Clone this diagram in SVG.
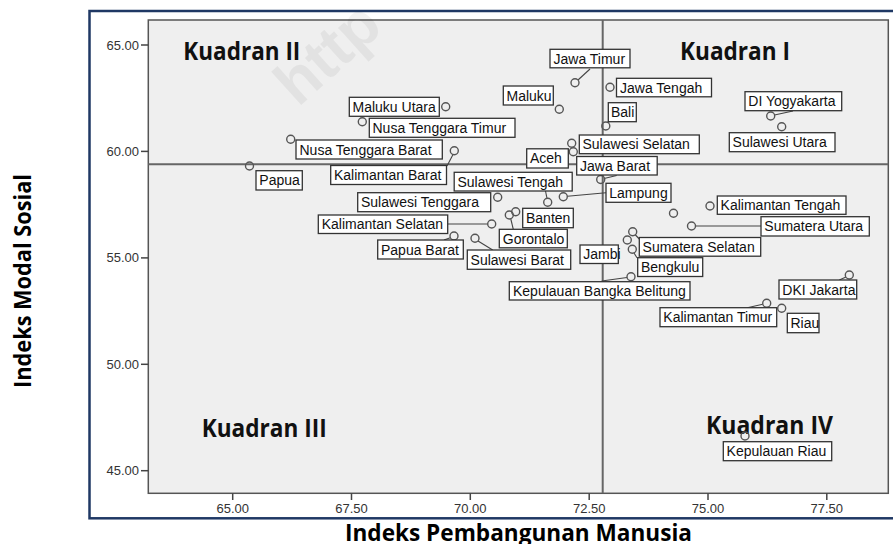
<svg xmlns="http://www.w3.org/2000/svg" width="893" height="544" viewBox="0 0 893 544">
<style>
.pt{fill:none;stroke:#555;stroke-width:1.4}
.lb{fill:#fff;stroke:#333;stroke-width:1.3}
.lt{font-family:"Liberation Sans",Arial,sans-serif;font-size:14px;fill:#111}
.tk{font-family:"Liberation Sans",Arial,sans-serif;font-size:13px;fill:#333}
.kd{font-family:"Open Sans","Liberation Sans",sans-serif;font-weight:700;font-size:25px;fill:#111}
.ax{font-family:"Open Sans","Liberation Sans",sans-serif;font-weight:700;font-size:24px;fill:#000}
.lead{stroke:#444;stroke-width:1.1;fill:none}
.ref{stroke:#666;stroke-width:2}
.tick{stroke:#444;stroke-width:1.5}
</style>
<rect x="0" y="0" width="893" height="544" fill="#fff"/>
<rect x="89.5" y="11" width="820" height="507.3" fill="#fff" stroke="#1f3864" stroke-width="2.5"/>
<rect x="148.3" y="20" width="740" height="473.3" fill="#efefef" stroke="#555" stroke-width="1.5"/>
<text x="298" y="108" transform="rotate(-42 298 108)" font-family="Liberation Sans,sans-serif" font-weight="700" font-size="62" fill="#000" fill-opacity="0.05">http</text>
<g id="axes">
<line class="tick" x1="141" y1="45" x2="148.3" y2="45"/>
<line class="tick" x1="141" y1="151.4" x2="148.3" y2="151.4"/>
<line class="tick" x1="141" y1="257.9" x2="148.3" y2="257.9"/>
<line class="tick" x1="141" y1="364.3" x2="148.3" y2="364.3"/>
<line class="tick" x1="141" y1="470.7" x2="148.3" y2="470.7"/>
<text class="tk" x="139" y="49.5" text-anchor="end">65.00</text>
<text class="tk" x="139" y="155.9" text-anchor="end">60.00</text>
<text class="tk" x="139" y="262.4" text-anchor="end">55.00</text>
<text class="tk" x="139" y="368.8" text-anchor="end">50.00</text>
<text class="tk" x="139" y="475.2" text-anchor="end">45.00</text>
<line class="tick" x1="232.7" y1="493.3" x2="232.7" y2="500"/>
<line class="tick" x1="351.5" y1="493.3" x2="351.5" y2="500"/>
<line class="tick" x1="470.3" y1="493.3" x2="470.3" y2="500"/>
<line class="tick" x1="589.2" y1="493.3" x2="589.2" y2="500"/>
<line class="tick" x1="708" y1="493.3" x2="708" y2="500"/>
<line class="tick" x1="826.8" y1="493.3" x2="826.8" y2="500"/>
<text class="tk" x="232.7" y="513" text-anchor="middle">65.00</text>
<text class="tk" x="351.5" y="513" text-anchor="middle">67.50</text>
<text class="tk" x="470.3" y="513" text-anchor="middle">70.00</text>
<text class="tk" x="589.2" y="513" text-anchor="middle">72.50</text>
<text class="tk" x="708" y="513" text-anchor="middle">75.00</text>
<text class="tk" x="826.8" y="513" text-anchor="middle">77.50</text>
<text class="ax" x="345" y="541" textLength="347" lengthAdjust="spacingAndGlyphs">Indeks Pembangunan Manusia</text>
<text class="ax" x="31" y="388" transform="rotate(-90 31 388)" font-size="22" textLength="214" lengthAdjust="spacingAndGlyphs">Indeks Modal Sosial</text>
</g>
<g id="reference-lines">
<line class="ref" x1="602.7" y1="20" x2="602.7" y2="493.3"/>
<line class="ref" x1="148.3" y1="164.3" x2="888.3" y2="164.3"/>
</g>
<g id="quadrants">
<text class="kd" x="183.3" y="59.5" textLength="117" lengthAdjust="spacingAndGlyphs">Kuadran II</text>
<text class="kd" x="680" y="60" textLength="110" lengthAdjust="spacingAndGlyphs">Kuadran I</text>
<text class="kd" x="201.7" y="436.7" textLength="125" lengthAdjust="spacingAndGlyphs">Kuadran III</text>
<text class="kd" x="706" y="434.3" textLength="127" lengthAdjust="spacingAndGlyphs">Kuadran IV</text>
</g>
<g id="connectors">
<line class="lead" x1="590" y1="69" x2="578" y2="80"/>
<line class="lead" x1="607" y1="122.5" x2="610" y2="121.5"/>
<line class="lead" x1="453" y1="154.5" x2="447" y2="166"/>
<line class="lead" x1="604" y1="178.5" x2="616.7" y2="175.5"/>
<line class="lead" x1="545.5" y1="191" x2="547" y2="198.3"/>
<line class="lead" x1="567.3" y1="196.3" x2="606" y2="192.7"/>
<line class="lead" x1="510.8" y1="219" x2="513.3" y2="229.3"/>
<line class="lead" x1="447.7" y1="224" x2="487.7" y2="224"/>
<line class="lead" x1="450.3" y1="237.8" x2="444" y2="240"/>
<line class="lead" x1="478" y1="241" x2="492.7" y2="250"/>
<line class="lead" x1="635" y1="234.5" x2="639.3" y2="239"/>
<line class="lead" x1="634" y1="253" x2="637" y2="257.7"/>
<line class="lead" x1="627" y1="277.5" x2="601.7" y2="281"/>
<line class="lead" x1="695.5" y1="226" x2="761" y2="226"/>
<line class="lead" x1="774.5" y1="115" x2="793" y2="111"/>
<line class="lead" x1="846" y1="277" x2="839.3" y2="280"/>
<line class="lead" x1="762.7" y1="304.3" x2="747.3" y2="307.7"/>
</g>
<g id="jawa-timur"><circle class="pt" cx="575" cy="82.7" r="4"/><rect class="lb" x="550" y="49.3" width="80" height="18.5"/><text class="lt" x="553.5" y="63.5">Jawa Timur</text></g>
<g id="jawa-tengah"><circle class="pt" cx="610" cy="87.3" r="4"/><rect class="lb" x="616.5" y="78.3" width="95" height="18.5"/><text class="lt" x="620" y="92.5">Jawa Tengah</text></g>
<g id="bali"><circle class="pt" cx="605.8" cy="126" r="4"/><rect class="lb" x="608.3" y="102.7" width="28" height="19"/><text class="lt" x="611" y="117">Bali</text></g>
<g id="maluku"><circle class="pt" cx="559.3" cy="109.3" r="4"/><rect class="lb" x="503.3" y="86" width="50" height="19"/><text class="lt" x="506.5" y="100.5">Maluku</text></g>
<g id="maluku-utara"><circle class="pt" cx="445.7" cy="106.7" r="4"/><rect class="lb" x="349.3" y="97.3" width="90" height="19"/><text class="lt" x="352.5" y="111.8">Maluku Utara</text></g>
<g id="ntt"><circle class="pt" cx="362.3" cy="121.7" r="4"/><rect class="lb" x="369.3" y="118.3" width="145.7" height="19"/><text class="lt" x="372.5" y="132.8">Nusa Tenggara Timur</text></g>
<g id="ntb"><circle class="pt" cx="290.7" cy="139.3" r="4"/><rect class="lb" x="296" y="140" width="146.3" height="19"/><text class="lt" x="299.5" y="154.5">Nusa Tenggara Barat</text></g>
<g id="kalimantan-barat"><circle class="pt" cx="454.3" cy="150.7" r="4"/><rect class="lb" x="330.7" y="165.5" width="115.8" height="19"/><text class="lt" x="334" y="180">Kalimantan Barat</text></g>
<g id="papua"><circle class="pt" cx="249.5" cy="166" r="4"/><rect class="lb" x="256" y="170.7" width="46.3" height="19.3"/><text class="lt" x="259.3" y="185.3">Papua</text></g>
<g id="sulawesi-selatan"><circle class="pt" cx="571.7" cy="143.3" r="4"/><rect class="lb" x="579.3" y="135" width="120" height="18.7"/><text class="lt" x="582.5" y="149.3">Sulawesi Selatan</text></g>
<g id="aceh"><circle class="pt" cx="573.3" cy="151.7" r="4"/><rect class="lb" x="526.7" y="148.8" width="41.6" height="19.2"/><text class="lt" x="530" y="163.3">Aceh</text></g>
<g id="jawa-barat"><circle class="pt" cx="600.7" cy="179.5" r="4"/><rect class="lb" x="576.7" y="156.5" width="80.5" height="18.5"/><text class="lt" x="580" y="170.7">Jawa Barat</text></g>
<g id="sulawesi-tengah"><circle class="pt" cx="547.7" cy="202.3" r="4"/><rect class="lb" x="454.2" y="172.3" width="118" height="18.7"/><text class="lt" x="457.5" y="186.6">Sulawesi Tengah</text></g>
<g id="lampung"><circle class="pt" cx="563.3" cy="196.7" r="4"/><rect class="lb" x="606" y="183.3" width="65" height="19"/><text class="lt" x="609.3" y="197.8">Lampung</text></g>
<g id="sulawesi-tenggara"><circle class="pt" cx="497.7" cy="197.3" r="4"/><rect class="lb" x="357.7" y="192.7" width="133" height="19"/><text class="lt" x="361" y="207.2">Sulawesi Tenggara</text></g>
<g id="banten"><circle class="pt" cx="515.7" cy="211.7" r="4"/><rect class="lb" x="522.7" y="208.3" width="50.6" height="19.4"/><text class="lt" x="526" y="223">Banten</text></g>
<g id="gorontalo"><circle class="pt" cx="509.3" cy="215" r="4"/><rect class="lb" x="499.3" y="229.3" width="68" height="18.5"/><text class="lt" x="502.8" y="243.5">Gorontalo</text></g>
<g id="kalimantan-selatan"><circle class="pt" cx="491.7" cy="224" r="4"/><rect class="lb" x="318.3" y="215" width="129.4" height="18.5"/><text class="lt" x="321.7" y="229.2">Kalimantan Selatan</text></g>
<g id="papua-barat"><circle class="pt" cx="454" cy="236" r="4"/><rect class="lb" x="377.7" y="240" width="85.6" height="19"/><text class="lt" x="381" y="254.5">Papua Barat</text></g>
<g id="sulawesi-barat"><circle class="pt" cx="475" cy="238.3" r="4"/><rect class="lb" x="467.3" y="250" width="103.4" height="19.3"/><text class="lt" x="470.6" y="264.6">Sulawesi Barat</text></g>
<g id="jambi"><circle class="pt" cx="627.3" cy="240" r="4"/><rect class="lb" x="580" y="245" width="38.3" height="18.5"/><text class="lt" x="583.3" y="259.2">Jambi</text></g>
<g id="sumatera-selatan"><circle class="pt" cx="632.7" cy="231.7" r="4"/><rect class="lb" x="639.3" y="237.5" width="121.4" height="18.7"/><text class="lt" x="642.6" y="251.8">Sumatera Selatan</text></g>
<g id="bengkulu"><circle class="pt" cx="632.3" cy="249.3" r="4"/><rect class="lb" x="637.7" y="257.7" width="65" height="18.8"/><text class="lt" x="641" y="272">Bengkulu</text></g>
<g id="kepulauan-bangka-belitung"><circle class="pt" cx="631" cy="276.7" r="4"/><rect class="lb" x="509.3" y="281.7" width="180.7" height="18.3"/><text class="lt" x="513" y="295.8">Kepulauan Bangka Belitung</text></g>
<g id="kalimantan-tengah"><circle class="pt" cx="710" cy="206" r="4"/><rect class="lb" x="717.3" y="196" width="128.7" height="18.3"/><text class="lt" x="720.6" y="210.1">Kalimantan Tengah</text></g>
<g id="sumatera-barat"><circle class="pt" cx="673.5" cy="213.3" r="4"/></g>
<g id="sumatera-utara"><circle class="pt" cx="691.5" cy="226" r="4"/><rect class="lb" x="761" y="216.7" width="108.3" height="19.3"/><text class="lt" x="764.3" y="231.2">Sumatera Utara</text></g>
<g id="di-yogyakarta"><circle class="pt" cx="770.7" cy="116" r="4"/><rect class="lb" x="745" y="91.7" width="96.7" height="19"/><text class="lt" x="748.3" y="106.2">DI Yogyakarta</text></g>
<g id="sulawesi-utara"><circle class="pt" cx="781.7" cy="126.7" r="4"/><rect class="lb" x="729.3" y="132.7" width="105.7" height="19"/><text class="lt" x="732.6" y="147.2">Sulawesi Utara</text></g>
<g id="dki-jakarta"><circle class="pt" cx="849.3" cy="275" r="4"/><rect class="lb" x="779" y="280" width="77.7" height="19"/><text class="lt" x="782.3" y="294.5">DKI Jakarta</text></g>
<g id="kalimantan-timur"><circle class="pt" cx="766.7" cy="303.3" r="4"/><rect class="lb" x="660" y="307.7" width="116.7" height="19"/><text class="lt" x="663.3" y="322.2">Kalimantan Timur</text></g>
<g id="riau"><circle class="pt" cx="781.7" cy="308.3" r="4"/><rect class="lb" x="787.3" y="313.3" width="31.7" height="19.4"/><text class="lt" x="790.5" y="328">Riau</text></g>
<g id="kepulauan-riau"><circle class="pt" cx="745" cy="436" r="4"/><rect class="lb" x="723.3" y="441.7" width="108.4" height="19"/><text class="lt" x="726.6" y="456.2">Kepulauan Riau</text></g>
</svg>
